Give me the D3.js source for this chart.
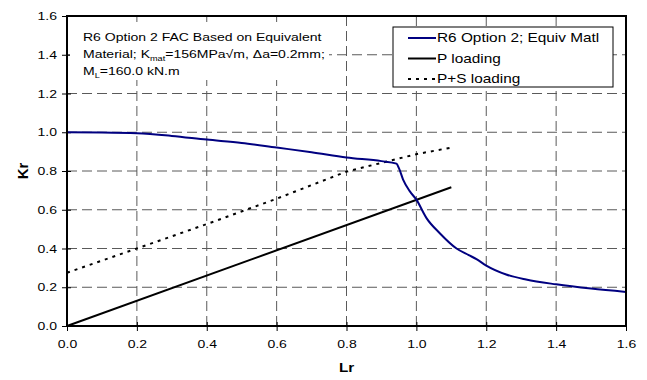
<!DOCTYPE html>
<html>
<head>
<meta charset="utf-8">
<script src="https://cdn.jsdelivr.net/npm/d3@7"></script>
<style>
    body { margin: 0; background: #fff; }
    text { font-family: Arial, "Liberation Sans", sans-serif; }
</style>
</head>
<body>
<div id="chart"></div>
<script>
// R6 Option 2 failure assessment curve (equivalent material)
var fadLr = [0, 0.1, 0.2, 0.3, 0.4, 0.5, 0.6, 0.7, 0.8, 0.9, 0.943, 0.95, 0.962, 0.981, 1.0, 1.029, 1.067, 1.115, 1.15, 1.172, 1.2, 1.257, 1.314, 1.4, 1.5, 1.6];
var fadKr = [1.0, 0.999, 0.995, 0.981, 0.962, 0.945, 0.921, 0.897, 0.870, 0.851, 0.838, 0.815, 0.756, 0.696, 0.652, 0.557, 0.479, 0.400, 0.366, 0.345, 0.312, 0.266, 0.240, 0.215, 0.193, 0.176];

// primary loading
var pLr = [0, 1.1];
var pKr = [0, 0.716];

// primary + secondary loading
var psLr = [0, 0.2, 0.4, 0.6, 0.8, 1.0, 1.1];
var psKr = [0.275, 0.400, 0.526, 0.657, 0.797, 0.887, 0.921];

var ticks = [0, 0.2, 0.4, 0.6, 0.8, 1.0, 1.2, 1.4, 1.6];
var legendNames = ['R6 Option 2; Equiv Matl', 'P loading', 'P+S loading'];

var W = 647, H = 380;
var margin = { top: 16, left: 67, bottom: 54, right: 21 },
    width = W - margin.left - margin.right,
    height = H - margin.top - margin.bottom;

// the source picture is stretched sideways, so text is widened a bit
var FS = 11.5, SX = 1.22;

var svg = d3.select('#chart').append('svg')
    .attr('width', W)
    .attr('height', H)
    .append('g')
    .attr('transform', 'translate(' + margin.left + ',' + margin.top + ')');

var x = d3.scaleLinear().domain([0, 1.6]).range([0, width]);
var y = d3.scaleLinear().domain([0, 1.6]).range([height, 0]);

// gridlines
var inner = ticks.filter(d => d > 0 && d < 1.6);
svg.selectAll('.vgrid')
    .data(inner)
    .enter()
    .append('line')
    .attr('class', 'vgrid')
    .attr('x1', d => x(d)).attr('x2', d => x(d))
    .attr('y1', 0).attr('y2', height)
    .attr('stroke', '#5a5a5a')
    .attr('stroke-dasharray', '10,5');

svg.selectAll('.hgrid')
    .data(inner)
    .enter()
    .append('line')
    .attr('class', 'hgrid')
    .attr('x1', 0).attr('x2', width)
    .attr('y1', d => y(d)).attr('y2', d => y(d))
    .attr('stroke', '#5a5a5a')
    .attr('stroke-dasharray', '10,5');

// axes (cross ticks like the spreadsheet)
var xAxis = d3.axisBottom(x).tickValues(ticks).tickFormat(d3.format('.1f')).tickSize(0);
var yAxis = d3.axisLeft(y).tickValues(ticks).tickFormat(d3.format('.1f')).tickSize(0);

var gx = svg.append('g')
    .attr('transform', 'translate(0,' + height + ')')
    .call(xAxis);
gx.select('.domain').remove();
gx.selectAll('text')
    .attr('dy', 0)
    .attr('y', 22)
    .attr('transform', 'scale(' + SX + ',1)')
    .style('font-size', FS + 'px')
    .attr('fill', '#000');
gx.selectAll('.tick').append('line')
    .attr('y1', -4).attr('y2', 5)
    .attr('stroke', '#000');

var gy = svg.append('g').call(yAxis);
gy.select('.domain').remove();
gy.selectAll('text')
    .attr('x', -10 / SX)
    .attr('transform', 'scale(' + SX + ',1)')
    .style('font-size', FS + 'px')
    .attr('fill', '#000');
gy.selectAll('.tick').append('line')
    .attr('x1', -5).attr('x2', 4)
    .attr('stroke', '#000');

// annotation box
svg.append('rect')
    .attr('x', 3).attr('y', 6)
    .attr('width', 259).attr('height', 58)
    .attr('fill', '#fff');

var note = svg.append('g')
    .attr('transform', 'translate(16,0) scale(' + SX + ',1)')
    .append('text')
    .style('font-size', FS + 'px');
note.append('tspan').attr('x', 0).attr('y', 25).text('R6 Option 2 FAC Based on Equivalent');
var l2 = note.append('tspan').attr('x', 0).attr('y', 42);
l2.append('tspan').text('Material; K');
l2.append('tspan').attr('dy', 3).style('font-size', '7.5px').text('mat');
l2.append('tspan').attr('dy', -3).text('=156MPa\u221Am, \u0394a=0.2mm;');
var l3 = note.append('tspan').attr('x', 0).attr('y', 59);
l3.append('tspan').text('M');
l3.append('tspan').attr('dy', 3).style('font-size', '7.5px').text('L');
l3.append('tspan').attr('dy', -3).text('=160.0 kN.m');

// series
var line = d3.line().x(d => x(d[0])).y(d => y(d[1]));

svg.append('path')
    .datum(psLr.map((d, i) => [d, psKr[i]]))
    .attr('d', line)
    .attr('fill', 'none')
    .attr('stroke', '#000')
    .attr('stroke-width', 2)
    .attr('stroke-dasharray', '3,5');

svg.append('path')
    .datum(pLr.map((d, i) => [d, pKr[i]]))
    .attr('d', line)
    .attr('fill', 'none')
    .attr('stroke', '#000')
    .attr('stroke-width', 2);

svg.append('path')
    .datum(fadLr.map((d, i) => [d, fadKr[i]]))
    .attr('d', line.curve(d3.curveMonotoneX))
    .attr('fill', 'none')
    .attr('stroke', '#000080')
    .attr('stroke-width', 2);

// plot frame
svg.append('rect')
    .attr('width', width).attr('height', height)
    .attr('fill', 'none')
    .attr('stroke', '#000')
    .attr('stroke-width', 2);

// legend
var lg = svg.append('g').attr('transform', 'translate(326,11)');
lg.append('rect')
    .attr('width', 220).attr('height', 60)
    .attr('fill', '#fff')
    .attr('stroke', '#000');
var styles = [
    { c: '#000080', dash: null },
    { c: '#000', dash: null },
    { c: '#000', dash: '3,5' }
];
legendNames.forEach((name, i) => {
    var row = lg.append('g').attr('transform', 'translate(0,' + (11 + i * 20.5) + ')');
    row.append('line')
        .attr('x1', 15).attr('x2', 43)
        .attr('stroke', styles[i].c)
        .attr('stroke-width', 2)
        .attr('stroke-dasharray', styles[i].dash);
    row.append('g')
        .attr('transform', 'translate(44,0) scale(' + SX + ',1)')
        .append('text')
        .attr('dy', '0.35em')
        .style('font-size', '12.6px')
        .text(name);
});

// axis titles
svg.append('g')
    .attr('transform', 'translate(' + (width / 2) + ',' + (height + 46) + ') scale(' + SX + ',1)')
    .append('text')
    .attr('text-anchor', 'middle')
    .style('font-size', '12.5px')
    .style('font-weight', 'bold')
    .text('Lr');

svg.append('text')
    .attr('transform', 'translate(' + (23 - margin.left) + ',' + (height / 2) + ') rotate(-90)')
    .attr('text-anchor', 'middle')
    .attr('dy', '0.35em')
    .style('font-size', '15px')
    .style('font-weight', 'bold')
    .text('Kr');
</script>
</body>
</html>
